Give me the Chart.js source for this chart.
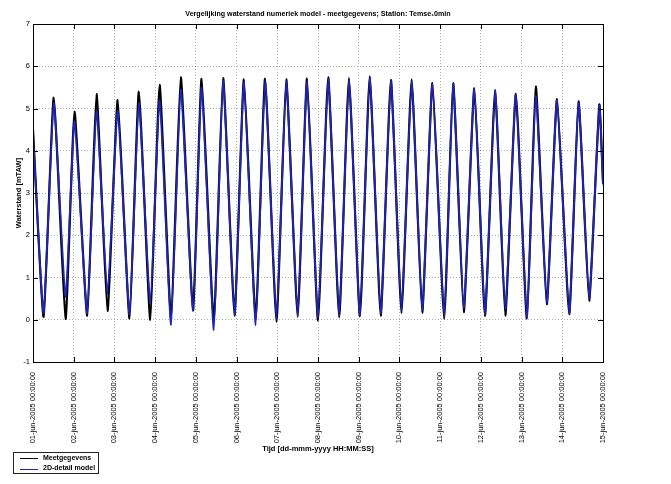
<!DOCTYPE html>
<html>
<head>
<meta charset="utf-8">
<script src="https://cdn.jsdelivr.net/npm/chart.js@4.4.1/dist/chart.umd.min.js"></script>
<style>
  html, body { margin: 0; padding: 0; background: #fff; }
  canvas { display: block; }
</style>
</head>
<body>
<canvas id="myChart" width="671" height="484"></canvas>
<script>
let tijd = [0, 0.26, 0.51, 0.80, 1.02, 1.33, 1.56, 1.83, 2.08, 2.37, 2.60, 2.88, 3.11, 3.39, 3.63,
  3.93, 4.14, 4.44, 4.67, 4.95, 5.18, 5.47, 5.70, 5.98, 6.22, 6.50, 6.73, 7.00, 7.25, 7.52, 7.76,
  8.03, 8.27, 8.54, 8.79, 9.05, 9.30, 9.56, 9.81, 10.10, 10.32, 10.58, 10.84, 11.10, 11.35, 11.60,
  11.86, 12.13, 12.35, 12.62, 12.87, 13.17, 13.40, 13.66, 13.91, 14.0];

let meetgegevens = [4.5, 0.07, 5.26, 0.02, 4.92, 0.10, 5.34, 0.21, 5.20, 0.03, 5.40, 0.00, 5.56, 0.05, 5.74,
  0.22, 5.70, -0.05, 5.72, 0.10, 5.69, 0.00, 5.71, -0.05, 5.69, 0.07, 5.71, -0.02, 5.74, 0.06, 5.72,
  0.08, 5.76, 0.10, 5.68, 0.16, 5.69, 0.17, 5.60, 0.02, 5.60, 0.18, 5.48, 0.09, 5.44, 0.10,
  5.35, 0.03, 5.52, 0.37, 5.22, 0.13, 5.17, 0.45, 5.09, 3.25];

let model2D = [4.4, 0.15, 5.13, 0.55, 4.70, 0.15, 4.95, 0.60, 4.95, 0.13, 5.13, 0.40, 5.20, -0.12, 5.45,
  0.21, 5.50, -0.24, 5.65, 0.10, 5.62, -0.13, 5.65, 0.00, 5.65, 0.07, 5.65, 0.05, 5.70, 0.08, 5.70,
  0.10, 5.75, 0.15, 5.66, 0.20, 5.66, 0.22, 5.58, 0.05, 5.58, 0.28, 5.46, 0.12, 5.42, 0.25,
  5.33, 0.05, 5.30, 0.40, 5.20, 0.15, 5.15, 0.50, 5.07, 3.2];

let tijdLabels = ['01-jun-2005 00:00:00', '02-jun-2005 00:00:00', '03-jun-2005 00:00:00', '04-jun-2005 00:00:00',
  '05-jun-2005 00:00:00', '06-jun-2005 00:00:00', '07-jun-2005 00:00:00', '08-jun-2005 00:00:00',
  '09-jun-2005 00:00:00', '10-jun-2005 00:00:00', '11-jun-2005 00:00:00', '12-jun-2005 00:00:00',
  '13-jun-2005 00:00:00', '14-jun-2005 00:00:00', '15-jun-2005 00:00:00'];

let yTicks = [-1, 0, 1, 2, 3, 4, 5, 6, 7];

let fontFam = "'Liberation Sans Narrow', 'Arial Narrow', 'Liberation Sans', Arial, sans-serif";
Chart.defaults.font.family = fontFam;
Chart.defaults.color = '#000';

function toPoints(values) {
  let pts = [];
  for (let i = 0; i < tijd.length; i++) {
    pts.push({x: tijd[i], y: values[i]});
  }
  return pts;
}

// kader + tickjes naar binnen, zoals matlab
let boxPlugin = {
  id: 'matlabBox',
  afterDatasetsDraw(chart) {
    let ctx = chart.ctx;
    let a = chart.chartArea;
    ctx.save();
    ctx.strokeStyle = '#000';
    ctx.lineWidth = 1;
    ctx.strokeRect(Math.round(a.left) + 0.5, Math.round(a.top) + 0.5,
      Math.round(a.right - a.left), Math.round(a.bottom - a.top));
    ctx.beginPath();
    chart.scales.x.ticks.forEach(t => {
      let px = Math.round(chart.scales.x.getPixelForValue(t.value)) + 0.5;
      ctx.moveTo(px, a.top); ctx.lineTo(px, a.top + 5);
      ctx.moveTo(px, a.bottom); ctx.lineTo(px, a.bottom - 5);
    });
    chart.scales.y.ticks.forEach(t => {
      let py = Math.round(chart.scales.y.getPixelForValue(t.value)) + 0.5;
      ctx.moveTo(a.left, py); ctx.lineTo(a.left + 5, py);
      ctx.moveTo(a.right, py); ctx.lineTo(a.right - 5, py);
    });
    ctx.stroke();
    ctx.restore();
  }
};

// legenda linksonder, items onder elkaar
let legendPlugin = {
  id: 'boxLegend',
  afterDraw(chart) {
    let ctx = chart.ctx;
    ctx.save();
    ctx.fillStyle = '#fff';
    ctx.fillRect(13.5, 452.5, 85, 21);
    ctx.strokeStyle = '#222';
    ctx.lineWidth = 1;
    ctx.strokeRect(13.5, 452.5, 85, 21);
    ctx.font = 'bold 7px ' + fontFam;
    ctx.textBaseline = 'middle';
    chart.data.datasets.forEach((ds, i) => {
      let y = 458 + i * 10.5;
      ctx.strokeStyle = ds.borderColor;
      ctx.lineWidth = 1;
      ctx.beginPath();
      ctx.moveTo(20, Math.round(y) + 0.5);
      ctx.lineTo(38, Math.round(y) + 0.5);
      ctx.stroke();
      ctx.fillStyle = '#000';
      ctx.fillText(ds.label, 43, y);
    });
    ctx.restore();
  }
};

let ctx = document.getElementById('myChart').getContext('2d');
let myChart = new Chart(ctx, {
  type: 'line',
  data: {
    datasets: [{
      label: 'Meetgegevens',
      data: toPoints(meetgegevens),
      borderColor: '#000000',
      borderWidth: 2.2,
      order: 2
    }, {
      label: '2D-detail model',
      data: toPoints(model2D),
      borderColor: '#2024b4',
      borderWidth: 1.8,
      order: 1
    }]
  },
  options: {
    responsive: false,
    animation: false,
    elements: {
      point: { radius: 0 },
      line: { tension: 0.15, fill: false, borderJoinStyle: 'round' }
    },
    layout: { padding: { left: 0, right: 68, top: 0, bottom: 30 } },
    plugins: {
      legend: { display: false },
      tooltip: { enabled: false },
      title: {
        display: true,
        fullSize: false,
        text: 'Vergelijking waterstand numeriek model - meetgegevens; Station: Temse\u20810min',
        font: { size: 7.1, weight: 'bold' },
        color: '#000',
        padding: { top: 10, bottom: 5.5 }
      }
    },
    scales: {
      x: {
        type: 'linear',
        min: 0,
        max: 14,
        afterFit: s => { s.height = 92; },
        afterBuildTicks: s => { s.ticks = tijdLabels.map((l, i) => ({value: i})); },
        ticks: {
          stepSize: 1,
          minRotation: 90,
          maxRotation: 90,
          padding: 10,
          font: { size: 7.5 },
          callback: v => tijdLabels[v]
        },
        grid: {
          drawTicks: false,
          color: 'rgba(0,0,0,0.3)',
          lineWidth: 1
        },
        border: { display: false, dash: [1, 2] },
        title: {
          display: true,
          text: 'Tijd [dd-mmm-yyyy HH:MM:SS]',
          font: { size: 7.5, weight: 'bold' },
          padding: { top: 0, bottom: 1 }
        }
      },
      y: {
        min: -1,
        max: 7,
        afterFit: s => { s.width = 33; },
        afterBuildTicks: s => { s.ticks = yTicks.map(v => ({value: v})); },
        ticks: {
          stepSize: 1,
          padding: 3,
          font: { size: 7.5 }
        },
        grid: {
          drawTicks: false,
          color: 'rgba(0,0,0,0.3)',
          lineWidth: 1
        },
        border: { display: false, dash: [1, 2] },
        title: {
          display: true,
          text: 'Waterstand [mTAW]',
          font: { size: 7.5, weight: 'bold' },
          padding: { top: 14, bottom: 0 }
        }
      }
    }
  },
  plugins: [boxPlugin, legendPlugin]
});
</script>
</body>
</html>
